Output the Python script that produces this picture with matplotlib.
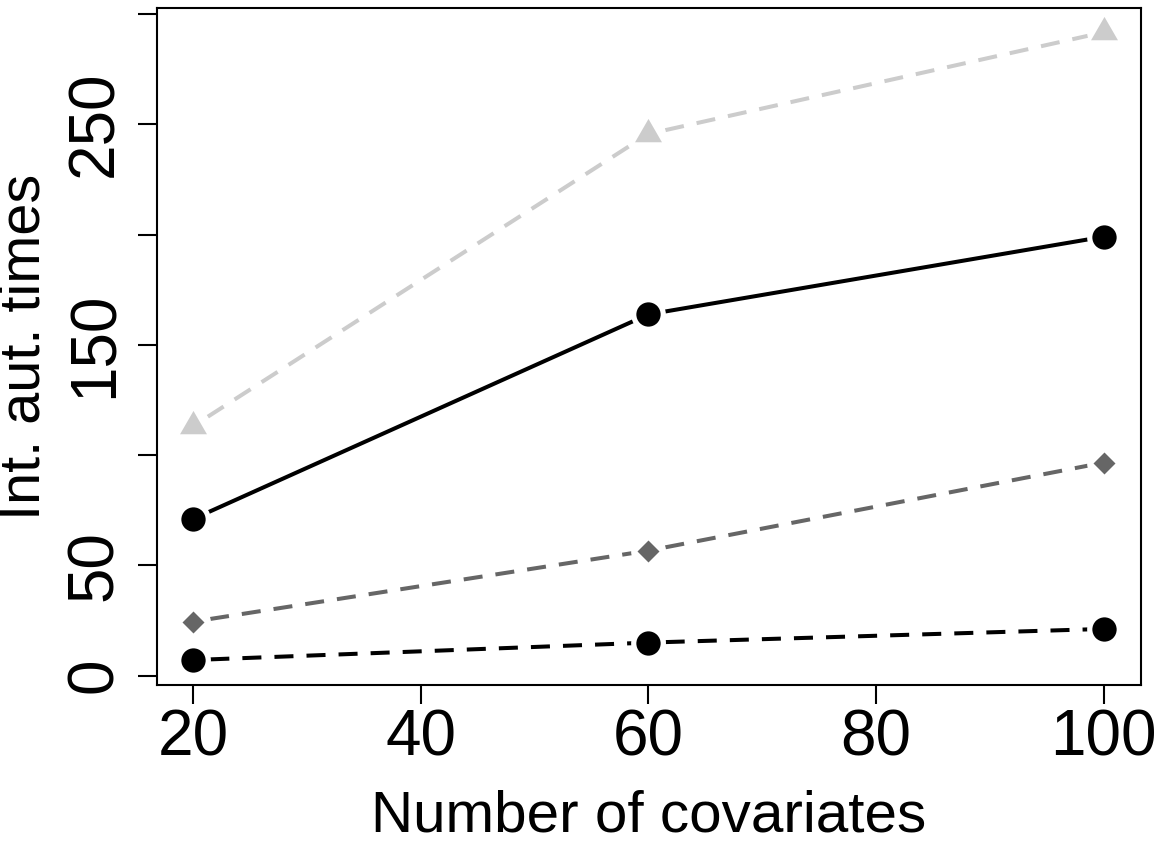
import matplotlib
matplotlib.use("Agg")
import matplotlib.pyplot as plt
import numpy as np

plt.rcParams.update({"font.family": ["Liberation Sans", "DejaVu Sans"]})

# number of covariates
n_cov = [20, 60, 100]
# integrated autocorrelation times, one list per method
iat_gray_tri = [113.1, 245.6, 291.7]
iat_black_solid = [71.0, 163.8, 199.0]
iat_gray_diam = [24.5, 56.7, 96.6]
iat_black_dash = [7.1, 15.0, 21.2]

yticks = [0, 50, 100, 150, 200, 250, 300]
ytick_labels = ["0", "50", "", "150", "", "250", ""]
xticks = [20, 40, 60, 80, 100]

W, H = 1161, 841
fig = plt.figure(figsize=(W / 100, H / 100), dpi=100)
ax = fig.add_axes([157 / W, 1 - 685 / H, (1141 - 157) / W, (685 - 8) / H])

LW = 2.9
ON, OFF = 13.7, 9.4          # dash pattern, points
HALO = 25.0                  # gap around points (R type="b"), points
off0 = (ON + OFF) - HALO / 2

tri = [(-1, -0.577), (1, -0.577), (0, 1.155)]
series = [
    (iat_gray_tri, "#cccccc", True, tri, 22.4),
    (iat_black_solid, "black", False, "o", 17.5),
    (iat_gray_diam, "#666666", True, "D", 10.8),
    (iat_black_dash, "black", True, "o", 17.5),
]

for ys, col, dashed, mk, ms in series:
    for i in range(len(n_cov) - 1):
        seg, = ax.plot(n_cov[i:i + 2], ys[i:i + 2], color=col, lw=LW, zorder=2,
                       solid_capstyle="butt", dash_capstyle="butt")
        if dashed:
            seg.set_linestyle((off0 / LW, (ON / LW, OFF / LW)))
    ax.plot(n_cov, ys, ls="none", marker="o", ms=HALO, mfc="white", mec="none", zorder=3)
    ax.plot(n_cov, ys, ls="none", marker=mk, ms=ms, mfc=col, mec="none", zorder=4)

ax.set_xlim(16.84, 103.28)
ax.set_ylim(-4.22, 302.7)
ax.set_xticks(xticks)
ax.set_yticks(yticks)
ax.set_yticklabels(ytick_labels, rotation=90, va="center")
for s in ax.spines.values():
    s.set_linewidth(1.5)
ax.tick_params(axis="both", length=13.7, width=1.5, labelsize=46, direction="out")
ax.tick_params(axis="x", pad=3)
ax.tick_params(axis="y", pad=9)

fig.text(649 / W, 1 - 831 / H, "Number of covariates", fontsize=42,
         ha="center", va="baseline")
fig.text(40 / W, 1 - 346.5 / H, "Int. aut. times", fontsize=41.5, rotation=90,
         rotation_mode="anchor", ha="center", va="baseline")

fig.savefig("out.png", dpi=100)
